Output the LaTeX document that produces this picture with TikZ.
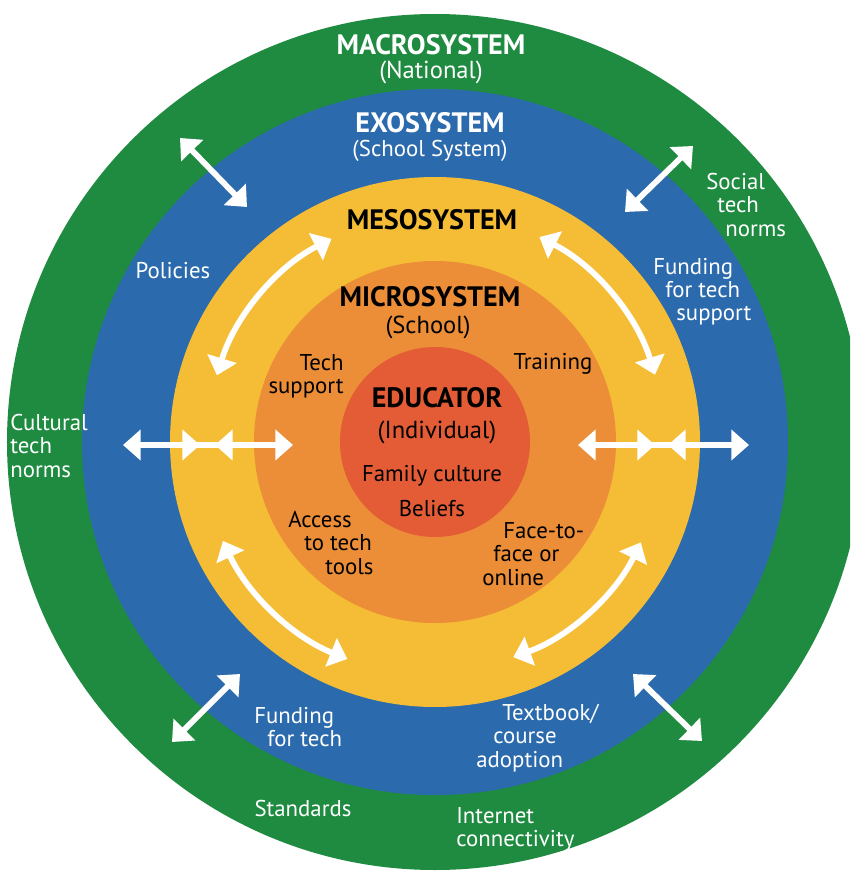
\documentclass[tikz,border=0pt]{standalone}
\usepackage{fontspec}
\setmainfont{PT Sans}
\usetikzlibrary{arrows.meta}

\definecolor{macro}{HTML}{1F8B41}
\definecolor{exo}{HTML}{2B6AAC}
\definecolor{meso}{HTML}{F5BD35}
\definecolor{micro}{HTML}{EC8D38}
\definecolor{indiv}{HTML}{E35C36}

\newlength\pxu
\setlength\pxu{0.02cm}

\begin{document}
\begin{tikzpicture}[
		x=0.02cm, y=0.02cm,
		>={Triangle[length=10pt,width=17pt]},
		title/.style={font=\fontsize{16}{17}\selectfont\bfseries, inner sep=0pt},
		sub/.style={font=\fontsize{14}{16}\selectfont, inner sep=0pt},
		lbl/.style={font=\fontsize{13}{13.2}\selectfont, align=left, inner sep=0pt},
		flow/.style={draw=white, line width=3.3pt, <->}
	]
	\useasboundingbox (-435,-431) rectangle (415,442);
	\fill[white] (-435,-431) rectangle (415,442);
	\clip (-435,-431) rectangle (415,442);

	% rings
	\foreach \r/\c in {428/macro, 353/exo, 265/meso, 181/micro, 95/indiv}
		\fill[\c] (0,0) circle[radius=\r];

	% ring titles
	\node[title, white] (macro) at (-4,397) {MACROSYSTEM};
	\node[sub, white] (national) at (-4,370) {(National)};
	\node[title, white] (exo) at (-5,319) {EXOSYSTEM};
	\node[sub, white, font=\fontsize{13}{15}\selectfont] (schoolsys) at (-5,291) {(School System)};
	\node[title] (meso) at (-3,222) {MESOSYSTEM};
	\node[title] (micro) at (-5,145) {MICROSYSTEM};
	\node[sub] (school) at (-7,115) {(School)};
	\node[title] (educator) at (2,44) {EDUCATOR};
	\node[sub] (individual) at (2,10) {(Individual)};
	\node[lbl] (family) at (-3,-34) {Family culture};
	\node[lbl] (beliefs) at (-3,-67) {Beliefs};

	% microsystem labels
	\node[lbl, align=right, anchor=east] (techsupport) at (-91,66) {Tech\\support};
	\node[lbl] (training) at (118,78) {Training};
	\node[lbl, anchor=west] (access) at (-147,-101)
		{Access\\\hspace*{16\pxu}to tech\\\hspace*{37\pxu}tools};
	\node[lbl, anchor=west] (facetoface) at (47,-112)
		{\hspace*{21\pxu}Face-to-\\\hspace*{11\pxu}face or\\online};

	% exosystem labels
	\node[lbl, white] (policies) at (-262,171) {Policies};
	\node[lbl, white, anchor=west] (fundsupport) at (218,150)
		{Funding\\\hspace*{12\pxu}for tech\\\hspace*{23\pxu}support};
	\node[lbl, white, anchor=west] (fundtech) at (-181,-285)
		{Funding\\\hspace*{13\pxu}for tech};
	\node[lbl, white, anchor=west] (textbook) at (41,-296)
		{\hspace*{26\pxu}Textbook/\\\hspace*{17\pxu}course\\adoption};

	% macrosystem labels
	\node[lbl, white, anchor=west] (social) at (271,237)
		{Social\\\hspace*{11\pxu}tech\\\hspace*{19\pxu}norms};
	\node[lbl, white, anchor=west] (cultural) at (-425,-4) {Cultural\\tech\\norms};
	\node[lbl, white] (standards) at (-132,-367) {Standards};
	\node[lbl, white, anchor=west] (internet) at (21,-387) {Internet\\connectivity};

	% straight arrows between exo and macro
	\draw[flow] (-255,304) -- (-188,235);
	\draw[flow] (258,296) -- (190,230);
	\draw[flow] (-263,-300) -- (-195,-232);
	\draw[flow] (198,-232) -- (267,-299);

	% horizontal arrows
	\draw[white, line width=3.3pt] (-240,-3) -- (-215,-3);
	\draw[flow] (-312,-3) -- (-235,-3);
	\draw[flow] (-220,-3) -- (-142,-3);
	\draw[white, line width=3.3pt] (215,-3) -- (238,-3);
	\draw[flow] (143,-3) -- (220,-3);
	\draw[flow] (233,-3) -- (314,-3);

	% curved arrows in the mesosystem
	\draw[flow] (117:228) arc[start angle=117, end angle=163, radius=228];
	\draw[flow] (63:230) arc[start angle=63, end angle=17, radius=230];
	\draw[flow] (205:234) arc[start angle=205, end angle=248, radius=234];
	\draw[flow] (-26:229) arc[start angle=-26, end angle=-70, radius=229];
\end{tikzpicture}
\end{document}
